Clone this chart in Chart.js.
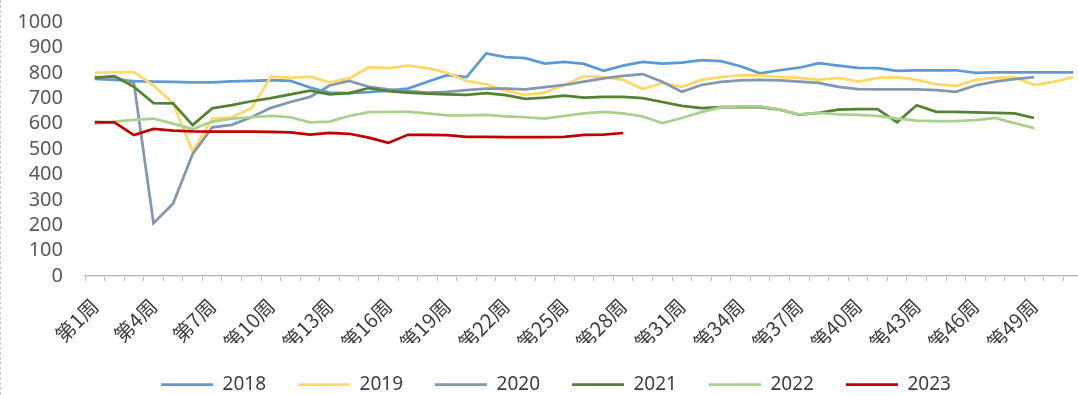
<!DOCTYPE html>
<html>
<head>
<meta charset="utf-8">
<script src="https://cdn.jsdelivr.net/npm/chart.js@4/dist/chart.umd.min.js"></script>
<style>
  html, body { margin: 0; padding: 0; background: #ffffff; overflow: hidden; }
  #wrap { position: relative; width: 1078px; height: 395px; overflow: hidden; }
  #frame { position: absolute; left: 0; top: 0; width: 1112px; height: 395px; }
  #frame canvas { display: block; }
  #edge { position: absolute; left: 0; top: 0; height: 395px; border-left: 1px dashed #c8c8c8; }
</style>
</head>
<body>
<div id="wrap">
  <div id="frame"><canvas id="c" width="1112" height="395"></canvas></div>
  <div id="edge"></div>
</div>
<script>
// Week categories 第1周 … 第51周, labelled every third week
const weeks = Array.from({ length: 51 }, (_, i) => '第' + (i + 1) + '周');
const labelEvery = 3;

// Y axis ticks
const yMin = 0, yMax = 1000, yStep = 100;

// Weekly values per year
const s2018 = [776, 772, 767, 765, 764, 762, 762, 766, 768, 771,
               768, 742, 722, 720, 724, 730, 738, 765, 791, 783,
               876, 862, 858, 836, 843, 835, 808, 828, 843, 836,
               840, 850, 846, 826, 798, 810, 820, 838, 828, 819,
               818, 808, 810, 810, 810, 800, 802, 802, 802, 802, 802];
const s2019 = [800, 803, 803, 750, 680, 490, 620, 625, 660, 785,
               780, 785, 762, 778, 822, 818, 828, 818, 800, 768,
               755, 730, 713, 722, 752, 787, 783, 772, 736, 760,
               745, 772, 783, 790, 790, 783, 780, 772, 780, 765,
               780, 783, 772, 755, 748, 772, 780, 783, 752, 764, 783];
const s2020 = [783, 783, 760, 208, 285, 480, 585, 595, 625, 662,
               685, 705, 750, 768, 745, 735, 728, 722, 725, 732,
               738, 738, 735, 744, 752, 765, 778, 788, 795, 765,
               725, 752, 764, 770, 772, 770, 765, 760, 745, 736,
               735, 735, 735, 732, 725, 750, 765, 775, 783];
const s2021 = [780, 787, 745, 681, 680, 594, 660, 673, 688, 700,
               715, 730, 715, 720, 740, 728, 722, 718, 715, 713,
               720, 712, 697, 702, 710, 702, 705, 705, 700, 685,
               670, 661, 665, 665, 665, 655, 635, 642, 655, 657,
               657, 605, 672, 646, 646, 644, 642, 640, 622];
const s2022 = [600, 608, 615, 620, 600, 578, 608, 620, 625, 630,
               625, 605, 608, 630, 645, 646, 646, 640, 632, 632,
               634, 628, 625, 620, 630, 640, 646, 640, 628, 602,
               622, 645, 665, 668, 668, 655, 636, 642, 636, 634,
               630, 620, 612, 610, 610, 614, 622, 602, 582];
const s2023 = [606, 605, 555, 579, 572, 569, 568, 568, 568, 567,
               565, 557, 563, 560, 545, 524, 556, 556, 555, 548,
               548, 547, 547, 547, 548, 556, 557, 563];

const years  = ['2018', '2019', '2020', '2021', '2022', '2023'];
const values = [s2018, s2019, s2020, s2021, s2022, s2023];
const colors = ['#5B9BD5', '#FFD966', '#8497B0', '#548235', '#A9D18E', '#C00000'];

const tickGrey = '#bfbfbf';

// Bottom legend: compact height, centred across the full canvas width
const legendBox = {
  id: 'legendBox',
  beforeLayout(chart) {
    const lg = chart.legend;
    if (lg && !lg._compact) {
      const fit = lg.fit;
      lg.fit = function () {
        fit.call(this);
        if (this.isHorizontal()) this.height = 52;
      };
      lg._compact = true;
    }
  },
  afterLayout(chart) {
    const lg = chart.legend;
    if (lg) {
      lg.left = 0;
      lg.right = chart.width;
      lg.width = chart.width;
    }
  }
};

new Chart(document.getElementById('c'), {
  type: 'line',
  data: {
    labels: weeks,
    datasets: years.map((y, i) => ({
      label: y,
      data: values[i],
      borderColor: colors[i],
      backgroundColor: colors[i],
      borderWidth: 2.75,
      pointRadius: 0,
      tension: 0,
      order: years.length - i
    }))
  },
  options: {
    responsive: false,
    animation: false,
    layout: { padding: { left: 0, right: 29, top: 22, bottom: 0 } },
    plugins: {
      tooltip: { enabled: false },
      legend: {
        position: 'bottom',
        labels: {
          usePointStyle: true,
          pointStyle: 'line',
          pointStyleWidth: 52,
          boxWidth: 52,
          padding: 32,
          color: '#404040',
          font: { family: 'Noto Sans', size: 19 },
          sort: (a, b) => a.datasetIndex - b.datasetIndex
        }
      }
    },
    scales: {
      x: {
        offset: true,
        grid: { offset: true, drawOnChartArea: false, drawTicks: true, tickLength: 5, color: tickGrey },
        border: { display: true, color: tickGrey, width: 1.5 },
        ticks: {
          autoSkip: false,
          minRotation: 45,
          maxRotation: 45,
          padding: 13,
          color: '#404040',
          font: { family: 'Noto Sans CJK SC', size: 20 },
          callback(v, i) { return i % labelEvery === 0 ? this.getLabelForValue(v) : ''; }
        },
        afterFit(s) { s.height = 67; }
      },
      y: {
        min: yMin,
        max: yMax,
        grid: { display: true, drawOnChartArea: false, drawTicks: true, tickLength: 14, color: 'rgba(0,0,0,0)' },
        border: { display: false },
        ticks: {
          stepSize: yStep,
          autoSkip: false,
          padding: 8,
          color: '#595959',
          font: { family: 'Noto Sans', size: 20 },
          callback: v => String(v)
        },
        afterFit(s) { s.width = 85; }
      }
    }
  },
  plugins: [legendBox]
});
</script>
</body>
</html>
